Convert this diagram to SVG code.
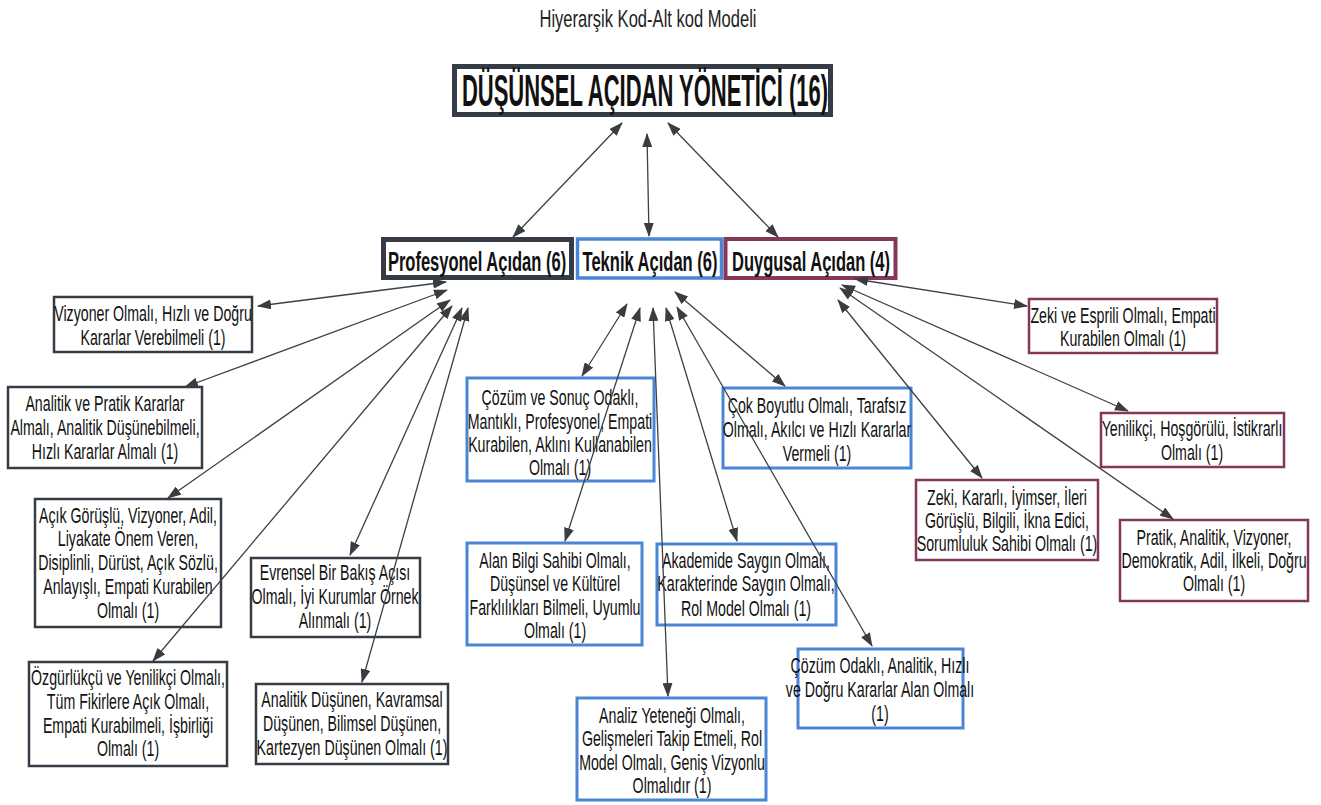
<svg xmlns="http://www.w3.org/2000/svg" width="1321" height="805" viewBox="0 0 1321 805">
  <defs>
    <marker id="ah" viewBox="0 0 14 10" refX="13" refY="5" markerWidth="14" markerHeight="10" markerUnits="userSpaceOnUse" orient="auto-start-reverse">
      <path d="M0,0 L14,5 L0,10 z" fill="#3a3c40"/>
    </marker>
    <style>
      .t { font-family: "Liberation Sans", Arial, sans-serif; font-size: 22px; fill: #111; text-anchor: middle; }
      .title { font-family: "Liberation Sans", Arial, sans-serif; font-size: 24px; fill: #222; text-anchor: middle; }
      .cat { font-family: "Liberation Sans", Arial, sans-serif; font-size: 28px; font-weight: bold; fill: #111; text-anchor: middle; }
      .root { font-family: "Liberation Sans", Arial, sans-serif; font-size: 44px; font-weight: bold; fill: #111; text-anchor: middle; }
      .bx { fill: #fff; }
      .dk { stroke: #363c45; stroke-width: 2.5; }
      .bl { stroke: #4a86d6; stroke-width: 3; }
      .mr { stroke: #85375a; stroke-width: 2.5; }
      .edge { stroke: #3f4044; stroke-width: 1.3; fill: none; marker-start: url(#ah); marker-end: url(#ah); }
    </style>
  </defs>
  <rect width="1321" height="805" fill="#ffffff"/>

  <text class="title" transform="translate(648,0) scale(0.69,1)" x="0" y="27">Hiyerarşik Kod-Alt kod Modeli</text>

  <g id="root">
    <rect class="bx" x="454.5" y="66.5" width="376" height="48" stroke="#353c45" stroke-width="5"/>
    <text class="root" transform="translate(645,0) scale(0.5,1)" x="0" y="106">DÜŞÜNSEL AÇIDAN YÖNETİCİ (16)</text>
  </g>

  <g id="profesyonel">
    <rect class="bx" x="383.5" y="239.5" width="188" height="38" stroke="#353c45" stroke-width="5"/>
    <text class="cat" transform="translate(477,0) scale(0.59,1)" x="0" y="271">Profesyonel Açıdan (6)</text>
  </g>
  <g id="teknik">
    <rect class="bx" x="577.5" y="239" width="144" height="39" stroke="#4a86d6" stroke-width="3.5"/>
    <text class="cat" transform="translate(650,0) scale(0.59,1)" x="0" y="271">Teknik Açıdan (6)</text>
  </g>
  <g id="duygusal">
    <rect class="bx" x="725.5" y="239" width="170" height="39" stroke="#85375a" stroke-width="4"/>
    <text class="cat" transform="translate(811,0) scale(0.59,1)" x="0" y="271">Duygusal Açıdan (4)</text>
  </g>

  <!-- Profesyonel children -->
  <g id="p1">
    <rect class="bx dk" x="54" y="297" width="198" height="55"/>
    <text class="t" transform="translate(153,0) scale(0.645,1)"><tspan x="0" y="321">Vizyoner Olmalı, Hızlı ve Doğru</tspan><tspan x="0" y="345">Kararlar Verebilmeli (1)</tspan></text>
  </g>
  <g id="p2">
    <rect class="bx dk" x="8" y="387" width="194" height="81"/>
    <text class="t" transform="translate(105,0) scale(0.645,1)"><tspan x="0" y="411">Analitik ve Pratik Kararlar</tspan><tspan x="0" y="435">Almalı, Analitik Düşünebilmeli,</tspan><tspan x="0" y="459">Hızlı Kararlar Almalı (1)</tspan></text>
  </g>
  <g id="p3">
    <rect class="bx dk" x="35" y="499" width="186" height="128"/>
    <text class="t" transform="translate(128,0) scale(0.645,1)"><tspan x="0" y="523">Açık Görüşlü, Vizyoner, Adil,</tspan><tspan x="0" y="546">Liyakate Önem Veren,</tspan><tspan x="0" y="570">Disiplinli, Dürüst, Açık Sözlü,</tspan><tspan x="0" y="594">Anlayışlı, Empati Kurabilen</tspan><tspan x="0" y="618">Olmalı (1)</tspan></text>
  </g>
  <g id="p4">
    <rect class="bx dk" x="29" y="662" width="198" height="104"/>
    <text class="t" transform="translate(128,0) scale(0.645,1)"><tspan x="0" y="685">Özgürlükçü ve Yenilikçi Olmalı,</tspan><tspan x="0" y="709">Tüm Fikirlere Açık Olmalı,</tspan><tspan x="0" y="733">Empati Kurabilmeli, İşbirliği</tspan><tspan x="0" y="756">Olmalı (1)</tspan></text>
  </g>
  <g id="p5">
    <rect class="bx dk" x="251" y="558" width="169" height="79"/>
    <text class="t" transform="translate(335,0) scale(0.645,1)"><tspan x="0" y="580">Evrensel Bir Bakış Açısı</tspan><tspan x="0" y="604">Olmalı, İyi Kurumlar Örnek</tspan><tspan x="0" y="628">Alınmalı (1)</tspan></text>
  </g>
  <g id="p6">
    <rect class="bx dk" x="256" y="684" width="192" height="80"/>
    <text class="t" transform="translate(352,0) scale(0.645,1)"><tspan x="0" y="707">Analitik Düşünen, Kavramsal</tspan><tspan x="0" y="731">Düşünen, Bilimsel Düşünen,</tspan><tspan x="0" y="755">Kartezyen Düşünen Olmalı (1)</tspan></text>
  </g>

  <!-- Teknik children -->
  <g id="t1">
    <rect class="bx bl" x="467" y="378" width="187" height="103"/>
    <text class="t" transform="translate(560,0) scale(0.645,1)"><tspan x="0" y="405">Çözüm ve Sonuç Odaklı,</tspan><tspan x="0" y="429">Mantıklı, Profesyonel, Empati</tspan><tspan x="0" y="452">Kurabilen, Aklını Kullanabilen</tspan><tspan x="0" y="475">Olmalı (1)</tspan></text>
  </g>
  <g id="t2">
    <rect class="bx bl" x="723" y="388" width="188" height="80"/>
    <text class="t" transform="translate(817,0) scale(0.645,1)"><tspan x="0" y="413">Çok Boyutlu Olmalı, Tarafsız</tspan><tspan x="0" y="437">Olmalı, Akılcı ve Hızlı Kararlar</tspan><tspan x="0" y="461">Vermeli (1)</tspan></text>
  </g>
  <g id="t3">
    <rect class="bx bl" x="467" y="543" width="175" height="102"/>
    <text class="t" transform="translate(555,0) scale(0.645,1)"><tspan x="0" y="568">Alan Bilgi Sahibi Olmalı,</tspan><tspan x="0" y="591">Düşünsel ve Kültürel</tspan><tspan x="0" y="615">Farklılıkları Bilmeli, Uyumlu</tspan><tspan x="0" y="638">Olmalı (1)</tspan></text>
  </g>
  <g id="t4">
    <rect class="bx bl" x="657" y="544" width="179" height="81"/>
    <text class="t" transform="translate(746,0) scale(0.645,1)"><tspan x="0" y="568">Akademide Saygın Olmalı,</tspan><tspan x="0" y="591">Karakterinde Saygın Olmalı,</tspan><tspan x="0" y="616">Rol Model Olmalı (1)</tspan></text>
  </g>
  <g id="t5">
    <rect class="bx bl" x="577" y="698" width="189" height="102"/>
    <text class="t" transform="translate(672,0) scale(0.645,1)"><tspan x="0" y="723">Analiz Yeteneği Olmalı,</tspan><tspan x="0" y="746">Gelişmeleri Takip Etmeli, Rol</tspan><tspan x="0" y="770">Model Olmalı, Geniş Vizyonlu</tspan><tspan x="0" y="793">Olmalıdır (1)</tspan></text>
  </g>
  <g id="t6">
    <rect class="bx bl" x="798" y="649" width="165" height="79"/>
    <text class="t" transform="translate(880,0) scale(0.645,1)"><tspan x="0" y="673">Çözüm Odaklı, Analitik, Hızlı</tspan><tspan x="0" y="697">ve Doğru Kararlar Alan Olmalı</tspan><tspan x="0" y="721">(1)</tspan></text>
  </g>

  <!-- Duygusal children -->
  <g id="d1">
    <rect class="bx mr" x="1029" y="299" width="188" height="54"/>
    <text class="t" transform="translate(1123,0) scale(0.645,1)"><tspan x="0" y="323">Zeki ve Esprili Olmalı, Empati</tspan><tspan x="0" y="346">Kurabilen Olmalı (1)</tspan></text>
  </g>
  <g id="d2">
    <rect class="bx mr" x="1101" y="413" width="183" height="54"/>
    <text class="t" transform="translate(1192,0) scale(0.645,1)"><tspan x="0" y="436">Yenilikçi, Hoşgörülü, İstikrarlı</tspan><tspan x="0" y="460">Olmalı (1)</tspan></text>
  </g>
  <g id="d3">
    <rect class="bx mr" x="916" y="480" width="182" height="80"/>
    <text class="t" transform="translate(1007,0) scale(0.645,1)"><tspan x="0" y="505">Zeki, Kararlı, İyimser, İleri</tspan><tspan x="0" y="528">Görüşlü, Bilgili, İkna Edici,</tspan><tspan x="0" y="551">Sorumluluk Sahibi Olmalı (1)</tspan></text>
  </g>
  <g id="d4">
    <rect class="bx mr" x="1120" y="520" width="188" height="81"/>
    <text class="t" transform="translate(1214,0) scale(0.645,1)"><tspan x="0" y="545">Pratik, Analitik, Vizyoner,</tspan><tspan x="0" y="568">Demokratik, Adil, İlkeli, Doğru</tspan><tspan x="0" y="591">Olmalı (1)</tspan></text>
  </g>

  <!-- connectors are drawn last so they run over the boxes they cross -->
  <g id="connectors">
    <!-- root to categories -->
    <line class="edge" x1="622" y1="123" x2="513" y2="237"/>
    <line class="edge" x1="647" y1="134" x2="649" y2="236"/>
    <line class="edge" x1="668" y1="123" x2="778" y2="237"/>
    <!-- Profesyonel -->
    <line class="edge" x1="446" y1="282" x2="258" y2="306"/>
    <line class="edge" x1="447" y1="290" x2="185" y2="387"/>
    <line class="edge" x1="450" y1="300" x2="168" y2="498"/>
    <line class="edge" x1="452" y1="306" x2="153" y2="661"/>
    <line class="edge" x1="462" y1="308" x2="350" y2="555"/>
    <line class="edge" x1="468" y1="308" x2="362" y2="682"/>
    <!-- Teknik -->
    <line class="edge" x1="627" y1="304" x2="582" y2="376"/>
    <line class="edge" x1="640" y1="308" x2="565" y2="541"/>
    <line class="edge" x1="653" y1="308" x2="668" y2="696"/>
    <line class="edge" x1="666" y1="308" x2="737" y2="541"/>
    <line class="edge" x1="677" y1="307" x2="872" y2="646"/>
    <line class="edge" x1="675" y1="292" x2="785" y2="386"/>
    <!-- Duygusal -->
    <line class="edge" x1="855" y1="279" x2="1027" y2="306"/>
    <line class="edge" x1="842" y1="285" x2="1128" y2="411"/>
    <line class="edge" x1="840" y1="288" x2="1173" y2="519"/>
    <line class="edge" x1="838" y1="300" x2="982" y2="478"/>
  </g>
</svg>
